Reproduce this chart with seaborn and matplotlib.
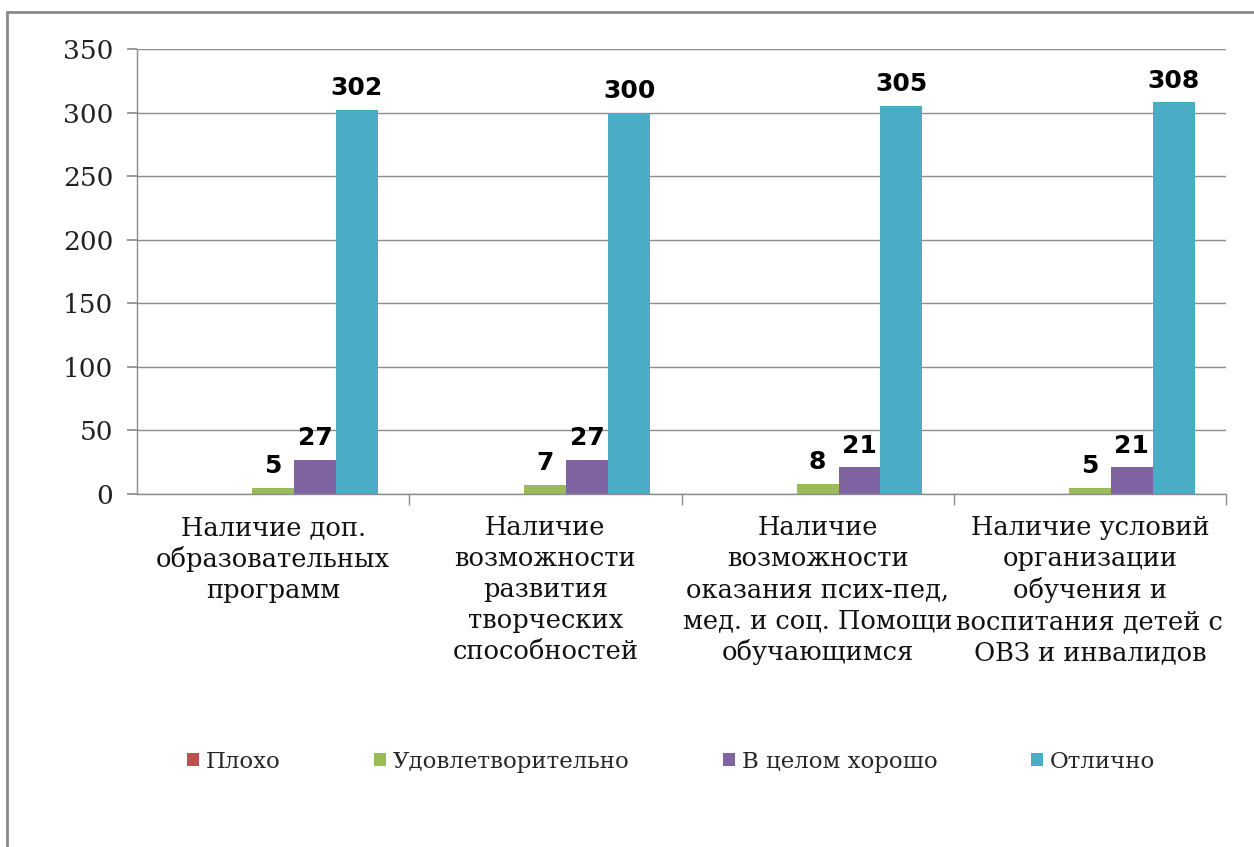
import matplotlib
matplotlib.use("Agg")
import matplotlib.pyplot as plt
from matplotlib.patches import Patch
from matplotlib.lines import Line2D
import seaborn as sns
import pandas as pd

categories = [
    "Наличие доп.\nобразовательных\nпрограмм",
    "Наличие\nвозможности\nразвития\nтворческих\nспособностей",
    "Наличие\nвозможности\nоказания псих-пед,\nмед. и соц. Помощи\nобучающимся",
    "Наличие условий\nорганизации\nобучения и\nвоспитания детей с\nОВЗ и инвалидов",
]
hidden_series = " "          # empty first series of the original chart (no legend entry)
hidden_values = [0, 0, 0, 0]
series = ["Плохо", "Удовлетворительно", "В целом хорошо", "Отлично"]
plokho = [0, 0, 0, 0]
udovl = [5, 7, 8, 5]
horosho = [27, 27, 21, 21]
otlichno = [302, 300, 305, 308]
colors = ["#C0504D", "#9BBB59", "#8064A2", "#4BACC6"]
yticks = [0, 50, 100, 150, 200, 250, 300, 350]

values = [hidden_values, plokho, udovl, horosho, otlichno]
names = [hidden_series] + series
rows = []
for name, vals in zip(names, values):
    for cat, v in zip(categories, vals):
        rows.append({"cat": cat, "series": name, "value": v})
df = pd.DataFrame(rows)

sns.set_theme(style="white")
plt.rcParams["font.family"] = ["DejaVu Serif"]

fig = plt.figure(figsize=(12.54, 8.47), dpi=100)
ax = fig.add_axes([137/1254, 1-494/847, (1226-137)/1254, (494-49)/847])

palette = {hidden_series: "#FFFFFF"}
palette.update(dict(zip(series, colors)))
sns.barplot(data=df, x="cat", y="value", hue="series", hue_order=names,
            order=categories, palette=palette, width=5/6.5, dodge=True,
            gap=0, saturation=1, legend=False, ax=ax, linewidth=0)

for cont, vals in zip(ax.containers, values):
    labels = [str(v) if v > 0 else "" for v in vals]
    ax.bar_label(cont, labels=labels, padding=7, fontsize=18,
                 fontweight="bold", family="DejaVu Sans", color="black")

ax.set_ylim(0, 350)
ax.set_xlim(-0.5, len(categories) - 0.5)
ax.set_yticks(yticks)
ax.set_yticklabels([str(t) for t in yticks], fontsize=19, color="#222222")
ax.yaxis.grid(True, color="#8c8c8c", linewidth=1)
ax.set_axisbelow(True)
ax.set_xlabel("")
ax.set_ylabel("")
for s in ["top", "right"]:
    ax.spines[s].set_visible(False)
for s in ["left", "bottom"]:
    ax.spines[s].set_color("#8c8c8c")
    ax.spines[s].set_linewidth(1)
ax.tick_params(axis="y", which="major", left=True, length=7, color="#8c8c8c", pad=10)
ax.set_xticks(range(len(categories)))
ax.set_xticklabels(categories, fontsize=18.5, color="#111111", linespacing=1.3)
ax.tick_params(axis="x", which="major", bottom=False, length=0, pad=15)
ax.set_xticks([i + 0.5 for i in range(len(categories))], minor=True)
ax.tick_params(axis="x", which="minor", bottom=True, length=8, color="#8c8c8c", direction="out")

handles = [Patch(facecolor=c, edgecolor="none") for c in colors]
fig.legend(handles, series, loc="center", bbox_to_anchor=(671/1254, 1-762/847),
           ncol=4, frameon=False, fontsize=16.5, handlelength=0.5, handleheight=0.5,
           handletextpad=0.3, columnspacing=4.1)

# outer chart frame
fig.add_artist(Line2D([7/1254, 7/1254], [0, 1-12/847], transform=fig.transFigure,
                      color="#8a8a8a", linewidth=2))
fig.add_artist(Line2D([7/1254, 1], [1-12/847, 1-12/847], transform=fig.transFigure,
                      color="#8a8a8a", linewidth=2))

fig.savefig("out.png", dpi=100, facecolor="white")
